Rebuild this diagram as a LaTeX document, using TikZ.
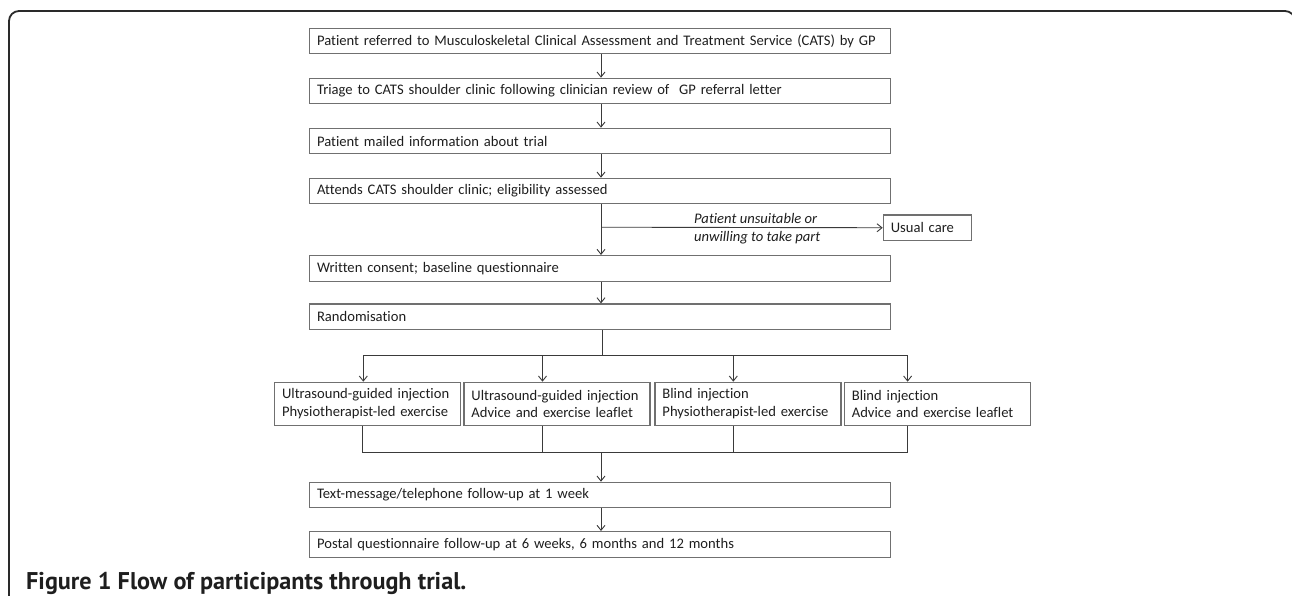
\documentclass[tikz,border=0pt]{standalone}
\usepackage{fontspec}
\setmainfont{Carlito}[Ligatures={NoCommon,NoContextual}]
\newfontfamily\capfont{PT Sans}
\usetikzlibrary{arrows.meta}
\definecolor{boxcol}{HTML}{707070}
\definecolor{linecol}{HTML}{3A3A3A}
\definecolor{txtcol}{HTML}{1E1E1E}
\definecolor{framecol}{HTML}{2A2A2A}
\begin{document}
\begin{tikzpicture}[x=1pt,y=-1pt,
  box/.style={draw=boxcol, line width=1.1pt, rectangle, anchor=north west,
    inner xsep=7.5pt, inner ysep=0pt, align=left, text=txtcol,
    font=\fontsize{14.6}{17.6}\selectfont},
  mainbox/.style={box, text width=566pt, minimum height=25.6pt},
  armbox/.style={box, text width=171pt, minimum height=43.3pt},
  conn/.style={draw=linecol, line width=0.9pt},
  arr/.style={conn, -{Straight Barb[length=5pt,width=8pt]}}
]
\useasboundingbox (0,0) rectangle (1292,596);
\clip (0,0) rectangle (1292,596);
% outer frame
\draw[framecol, line width=1.8pt, rounded corners=10pt] (9,610) -- (9,11) -- (1295,11) -- (1295,610);

% main boxes
\node[mainbox] (b1) at (309,27.7) {Patient referred to Musculoskeletal Clinical Assessment and Treatment Service (CATS) by GP};
\node[mainbox] (b2) at (309,77.7) {Triage to CATS shoulder clinic following clinician review of \ GP referral letter};
\node[mainbox] (b3) at (309,127.7) {Patient mailed information about trial};
\node[mainbox] (b4) at (309,177.7) {Attends CATS shoulder clinic; eligibility assessed};
\node[mainbox] (b5) at (309,255.0) {Written consent; baseline questionnaire};
\node[mainbox] (b6) at (309,303.4) {Randomisation};
\node[mainbox] (b7) at (309,481.7) {Text-message/telephone follow-up at 1 week};
\node[mainbox] (b8) at (309,531.0) {Postal questionnaire follow-up at 6 weeks, 6 months and 12 months};

\node[box, text width=73pt, minimum height=25.6pt] (uc) at (882.7,214.4) {Usual care};

% arm boxes
\node[armbox] (q1) at (274.0,381.7) {Ultrasound-guided injection\\Physiotherapist-led exercise};
\node[armbox] (q2) at (463.4,381.7) {Ultrasound-guided injection\\Advice and exercise leaflet};
\node[armbox] (q3) at (654.4,381.7) {Blind injection\\Physiotherapist-led exercise};
\node[armbox] (q4) at (843.8,381.7) {Blind injection\\Advice and exercise leaflet};

% label
\node[anchor=west, align=left, inner sep=0pt, text=txtcol,
  font=\itshape\fontsize{14.6}{17.3}\selectfont] (lab) at (694,228.6)
  {Patient unsuitable or\\unwilling to take part};

% coordinates
\coordinate (ax) at (601,0);
\coordinate (br) at (601,227.2);
\coordinate (d) at (602,355);
\coordinate (d1) at (363.3,355);
\coordinate (d2) at (542.5,355);
\coordinate (d3) at (733.3,355);
\coordinate (d4) at (907.6,355);
\coordinate (m0) at (601,452.7);
\coordinate (m1) at (362.8,452.7);
\coordinate (m2) at (542.7,452.7);
\coordinate (m3) at (733.3,452.7);
\coordinate (m4) at (907.4,452.7);

% connectors
\draw[arr] (b1.south -| ax) -- (b2.north -| ax);
\draw[arr] (b2.south -| ax) -- (b3.north -| ax);
\draw[arr] (b3.south -| ax) -- (b4.north -| ax);
\draw[arr] (b4.south -| ax) -- (b5.north -| ax);
\draw[arr] (br) -- (uc.west);
\draw[arr] (b5.south -| ax) -- (b6.north -| ax);
\draw[conn] (b6.south -| d) -- (d);
\draw[conn] (d1) -- (d4);
\draw[arr] (d1) -- (d1 |- q1.north);
\draw[arr] (d2) -- (d2 |- q2.north);
\draw[arr] (d3) -- (d3 |- q3.north);
\draw[arr] (d4) -- (d4 |- q4.north);
\draw[conn] (q1.south -| m1) -- (m1) -- (m4) -- (q4.south -| m4);
\draw[conn] (q2.south -| m2) -- (m2);
\draw[conn] (q3.south -| m3) -- (m3);
\draw[arr] (m0) -- (b7.north -| m0);
\draw[arr] (b7.south -| ax) -- (b8.north -| ax);

% caption
\node[anchor=base west, inner sep=0pt, text=txtcol,
  font=\capfont\bfseries\fontsize{24.2}{28}\selectfont] (cap) at (26,589)
  {Figure 1 Flow of participants through trial.};
\end{tikzpicture}
\end{document}
